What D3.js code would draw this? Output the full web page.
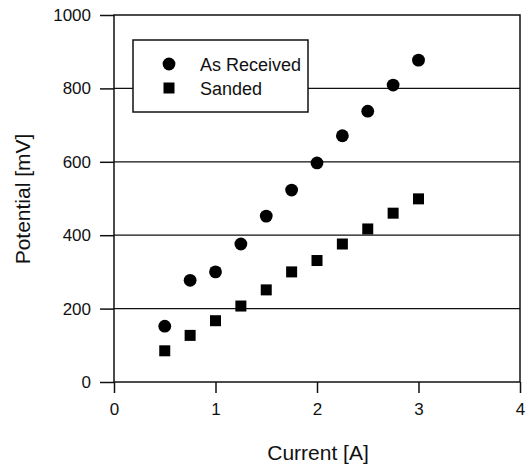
<!DOCTYPE html>
<html>
<head>
<meta charset="utf-8">
<script src="https://cdn.jsdelivr.net/npm/d3@7"></script>
<style>
body { margin: 0; background: #fff; }
text { font-family: "Liberation Sans", Arial, sans-serif; fill: #111; }
</style>
</head>
<body>
<svg id="chart" width="526" height="468"></svg>
<script>
// data
var currents = [0.5, 0.75, 1, 1.25, 1.5, 1.75, 2, 2.25, 2.5, 2.75, 3];
var asReceived = [152, 277, 300, 376, 452, 523, 597, 671, 738, 809, 877];
var sanded = [85, 127, 167, 207, 251, 300, 331, 376, 417, 460, 499];
var xTicks = [0, 1, 2, 3, 4];
var yTicks = [0, 200, 400, 600, 800, 1000];
var gridValues = [200, 400, 600, 800];

var margins = {left: 114, right: 6, top: 15, bottom: 86};
var screen = {width: 526, height: 468};
var graph = {
    width: screen.width - margins.left - margins.right,
    height: screen.height - margins.top - margins.bottom
};

var xScale = d3.scaleLinear().domain([0, 4]).range([0, graph.width]);
var yScale = d3.scaleLinear().domain([0, 1000]).range([graph.height, 0]);

var svg = d3.select("#chart");
var plot = svg.append("g")
    .attr("transform", "translate(" + margins.left + "," + margins.top + ")");

// gridlines
plot.selectAll(".grid")
    .data(gridValues)
    .enter().append("line")
    .attr("x1", 0).attr("x2", graph.width)
    .attr("y1", function(d) { return yScale(d); })
    .attr("y2", function(d) { return yScale(d); })
    .attr("stroke", "#111").attr("stroke-width", 1.3);

// frame
plot.append("rect")
    .attr("width", graph.width).attr("height", graph.height)
    .attr("fill", "none").attr("stroke", "#111").attr("stroke-width", 1.5);

var xAxis = d3.axisBottom(xScale).tickValues(xTicks).tickSize(11).tickPadding(10)
    .tickFormat(d3.format("d"));
var yAxis = d3.axisLeft(yScale).tickValues(yTicks).tickSize(14).tickPadding(9)
    .tickFormat(d3.format("d"));

var gx = plot.append("g")
    .attr("transform", "translate(0," + graph.height + ")")
    .call(xAxis);
var gy = plot.append("g").call(yAxis);

[gx, gy].forEach(function(g) {
    g.select(".domain").remove();
    g.selectAll(".tick line").attr("stroke", "#111").attr("stroke-width", 1.5);
    g.selectAll(".tick text").style("font-size", "17px")
        .style("font-family", "'Liberation Sans', Arial, sans-serif").attr("fill", "#111");
});

// points
plot.selectAll(".recv")
    .data(currents)
    .enter().append("circle")
    .attr("cx", function(d) { return xScale(d); })
    .attr("cy", function(d, i) { return yScale(asReceived[i]); })
    .attr("r", 6.4)
    .attr("fill", "#000");

plot.selectAll(".sand")
    .data(currents)
    .enter().append("rect")
    .attr("x", function(d) { return xScale(d) - 5.5; })
    .attr("y", function(d, i) { return yScale(sanded[i]) - 5.5; })
    .attr("width", 11).attr("height", 11)
    .attr("fill", "#000");

// legend
var legend = svg.append("g").attr("transform", "translate(133,40)");
legend.append("rect")
    .attr("width", 175).attr("height", 72)
    .attr("fill", "#fff").attr("stroke", "#111").attr("stroke-width", 1.5);
legend.append("circle").attr("cx", 36).attr("cy", 24).attr("r", 6.4).attr("fill", "#000");
legend.append("rect").attr("x", 30.5).attr("y", 42.5).attr("width", 11).attr("height", 11).attr("fill", "#000");
legend.append("text").attr("x", 67).attr("y", 30.5).text("As Received").style("font-size", "18px");
legend.append("text").attr("x", 67).attr("y", 54.5).text("Sanded").style("font-size", "18px");

// axis labels
svg.append("text")
    .attr("x", 318)
    .attr("y", 460)
    .attr("text-anchor", "middle")
    .style("font-size", "21px")
    .text("Current [A]");

svg.append("g")
    .attr("transform", "translate(30,199)")
    .append("text")
    .attr("transform", "rotate(-90)")
    .attr("text-anchor", "middle")
    .style("font-size", "21px")
    .text("Potential [mV]");
</script>
</body>
</html>
